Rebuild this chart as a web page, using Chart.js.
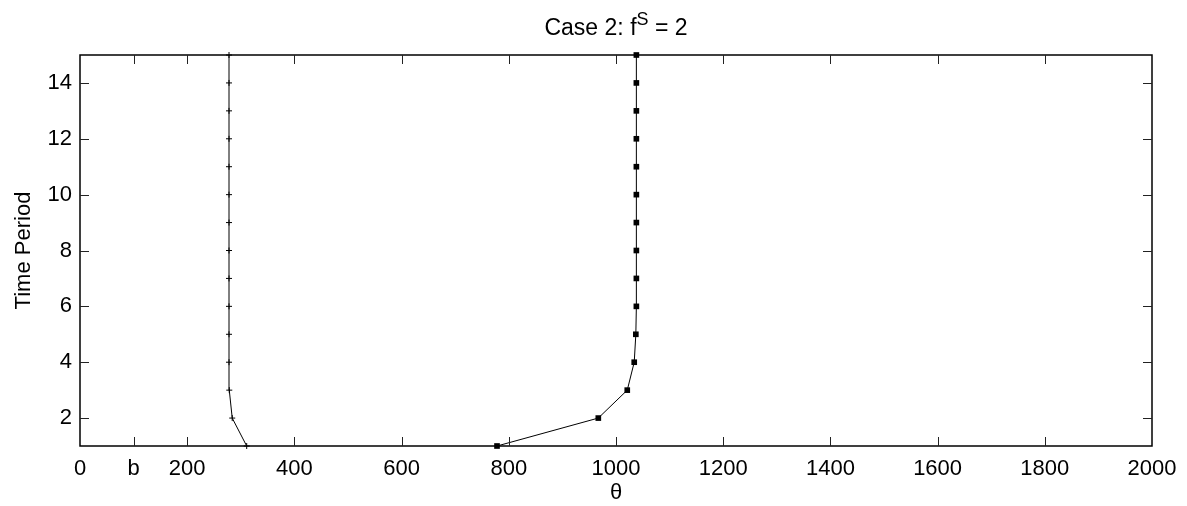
<!DOCTYPE html>
<html>
<head>
<meta charset="utf-8">
<script src="https://cdn.jsdelivr.net/npm/chart.js@4.4.0/dist/chart.umd.min.js"></script>
<style>
html,body{margin:0;padding:0;background:#fff;}
canvas{display:block;}
</style>
</head>
<body>
<canvas id="c" width="1187" height="506"></canvas>
<script>
// ---- data ----
const periods = [1, 2, 3, 4, 5, 6, 7, 8, 9, 10, 11, 12, 13, 14, 15];
const thetaPlus = [311, 284, 278.5, 278, 278, 278, 278, 278, 278, 278, 278, 278, 278, 278, 278];
const thetaSquare = [778, 967, 1021, 1034, 1037, 1038, 1038, 1038, 1038, 1038, 1038, 1038, 1038, 1038, 1038];
const xTickValues = [0, 100, 200, 400, 600, 800, 1000, 1200, 1400, 1600, 1800, 2000];
const xTickLabels = ['0', 'b', '200', '400', '600', '800', '1000', '1200', '1400', '1600', '1800', '2000'];
const yTickValues = [2, 4, 6, 8, 10, 12, 14];
const yTickLabels = ['2', '4', '6', '8', '10', '12', '14'];
const titleMain = 'Case 2: f';
const titleSup = 'S';
const titleTail = ' = 2';
const xTitle = 'θ';
const yTitle = 'Time Period';

const FONT = 'Liberation Sans, Arial, sans-serif';

const framePlugin = {
  id: 'frame',
  afterDraw(chart) {
    const ctx = chart.ctx;
    const a = chart.chartArea;
    const xs = chart.scales.x, ys = chart.scales.y;
    ctx.save();
    ctx.strokeStyle = '#000';
    ctx.lineWidth = 1.5;
    ctx.strokeRect(a.left, a.top, a.right - a.left, a.bottom - a.top);
    ctx.lineWidth = 1;
    ctx.strokeStyle = '#222';
    const tl = 9;
    ctx.beginPath();
    xTickValues.forEach(v => {
      const p = Math.round(xs.getPixelForValue(v)) + 0.5;
      if (p <= a.left + 1 || p >= a.right - 1) return;
      ctx.moveTo(p, a.bottom); ctx.lineTo(p, a.bottom - tl);
      ctx.moveTo(p, a.top); ctx.lineTo(p, a.top + tl);
    });
    yTickValues.forEach(v => {
      const p = Math.round(ys.getPixelForValue(v)) + 0.5;
      ctx.moveTo(a.left, p); ctx.lineTo(a.left + tl, p);
      ctx.moveTo(a.right, p); ctx.lineTo(a.right - tl, p);
    });
    ctx.stroke();

    // title with superscript
    const mainFont = '23px ' + FONT;
    const supFont = '18px ' + FONT;
    ctx.fillStyle = '#000';
    ctx.textBaseline = 'alphabetic';
    ctx.textAlign = 'left';
    ctx.font = mainFont;
    const w1 = ctx.measureText(titleMain).width;
    const w3 = ctx.measureText(titleTail).width;
    ctx.font = supFont;
    const w2 = ctx.measureText(titleSup).width;
    const total = w1 + w2 + w3;
    const cx = (a.left + a.right) / 2;
    let x = cx - total / 2;
    const base = 35;
    ctx.font = mainFont;
    ctx.fillText(titleMain, x, base);
    x += w1;
    ctx.font = supFont;
    ctx.fillText(titleSup, x, base - 10);
    x += w2;
    ctx.font = mainFont;
    ctx.fillText(titleTail, x, base);
    ctx.restore();
  }
};

const ctx = document.getElementById('c').getContext('2d');
new Chart(ctx, {
  type: 'scatter',
  data: {
    datasets: [
      {
        data: periods.map((p, i) => ({x: thetaPlus[i], y: p})),
        showLine: true,
        borderColor: '#000',
        borderWidth: 1,
        pointStyle: 'cross',
        pointRadius: 3,
        pointBorderColor: '#000',
        pointBorderWidth: 1,
        tension: 0
      },
      {
        data: periods.map((p, i) => ({x: thetaSquare[i], y: p})),
        showLine: true,
        borderColor: '#000',
        borderWidth: 1,
        pointStyle: 'rect',
        pointRadius: 4,
        pointBackgroundColor: '#000',
        pointBorderColor: '#000',
        pointBorderWidth: 0,
        tension: 0
      }
    ]
  },
  options: {
    responsive: false,
    devicePixelRatio: 1,
    animation: false,
    clip: false,
    layout: {padding: {left: 0, right: 35, top: 55, bottom: 0}},
    plugins: {legend: {display: false}, tooltip: {enabled: false}, title: {display: false}},
    scales: {
      x: {
        type: 'linear',
        position: 'bottom',
        min: 0, max: 2000,
        grid: {display: false, drawTicks: false},
        border: {display: false},
        afterBuildTicks: s => { s.ticks = xTickValues.map(v => ({value: v})); },
        afterFit: s => { s.height = 60; },
        ticks: {
          autoSkip: false,
          maxRotation: 0,
          padding: 10,
          color: '#000',
          font: {family: FONT, size: 22},
          callback: (v) => { const i = xTickValues.indexOf(v); return i >= 0 ? xTickLabels[i] : ''; }
        },
        title: {display: true, text: xTitle, color: '#000', font: {family: FONT, size: 22}, padding: {top: 0, bottom: 0}}
      },
      y: {
        type: 'linear',
        position: 'left',
        min: 1, max: 15,
        grid: {display: false, drawTicks: false},
        border: {display: false},
        afterBuildTicks: s => { s.ticks = yTickValues.map(v => ({value: v})); },
        afterFit: s => { s.width = 80; },
        ticks: {
          autoSkip: false,
          padding: 8,
          color: '#000',
          font: {family: FONT, size: 22},
          callback: (v) => { const i = yTickValues.indexOf(v); return i >= 0 ? yTickLabels[i] : ''; }
        },
        title: {display: true, text: yTitle, color: '#000', font: {family: FONT, size: 22}, padding: {top: 11, bottom: 0}}
      }
    }
  },
  plugins: [framePlugin]
});
</script>
</body>
</html>
